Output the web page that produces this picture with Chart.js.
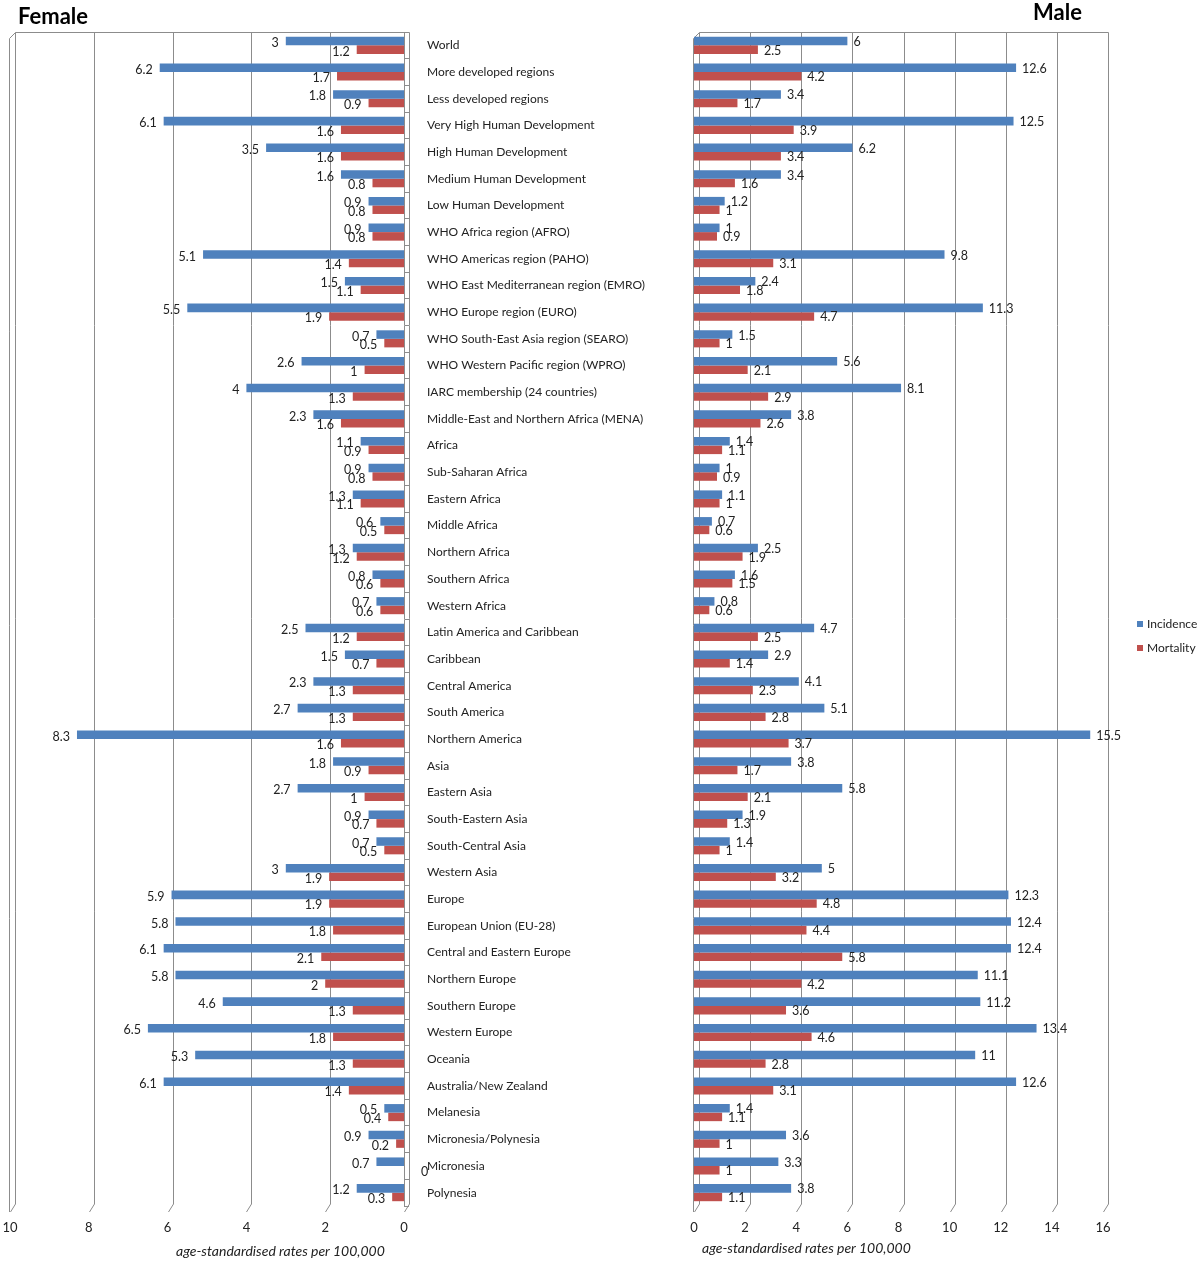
<!DOCTYPE html>
<html><head><meta charset="utf-8">
<script src="https://cdn.jsdelivr.net/npm/chart.js@4"></script>
<style>
body{margin:0;background:#fff;width:1200px;height:1261px;position:relative;overflow:hidden;font-family:Lato,sans-serif;color:#222}
#fw{position:absolute;left:0;top:0;width:680px;height:1261px}
#mw{position:absolute;left:680px;top:0;width:520px;height:1261px}
.h{position:absolute;font-weight:bold;font-size:22px;color:#000;line-height:1}
.at{position:absolute;font-style:italic;font-size:14px;color:#222;white-space:nowrap;line-height:1}
.lg{position:absolute;left:1137px;font-size:12px;line-height:1;white-space:nowrap}
.lg span{display:inline-block;width:6px;height:6px;margin-right:4px;vertical-align:1px}
</style></head>
<body>
<div id="fw"><canvas id="fc"></canvas></div>
<div id="mw"><canvas id="mc"></canvas></div>
<div class="h" style="left:18px;top:5px">Female</div>
<div class="h" style="left:1033px;top:1px">Male</div>
<div class="at" style="left:176px;top:1244px">age-standardised rates per 100,000</div>
<div class="at" style="left:702px;top:1241px">age-standardised rates per 100,000</div>
<div class="lg" style="top:618px"><span style="background:#4F81BD"></span>Incidence</div>
<div class="lg" style="top:642px"><span style="background:#C0504D"></span>Mortality</div>
<script>
const categories = ["World","More developed regions","Less developed regions","Very High Human Development","High Human Development","Medium Human Development","Low Human Development","WHO Africa region (AFRO)","WHO Americas region (PAHO)","WHO East Mediterranean region (EMRO)","WHO Europe region (EURO)","WHO South-East Asia region (SEARO)","WHO Western Pacific region (WPRO)","IARC membership (24 countries)","Middle-East and Northern Africa (MENA)","Africa","Sub-Saharan Africa","Eastern Africa","Middle Africa","Northern Africa","Southern Africa","Western Africa","Latin America and Caribbean","Caribbean","Central America","South America","Northern America","Asia","Eastern Asia","South-Eastern Asia","South-Central Asia","Western Asia","Europe","European Union (EU-28)","Central and Eastern Europe","Northern Europe","Southern Europe","Western Europe","Oceania","Australia/New Zealand","Melanesia","Micronesia/Polynesia","Micronesia","Polynesia"];
const femaleIncidence = [3,6.2,1.8,6.1,3.5,1.6,0.9,0.9,5.1,1.5,5.5,0.7,2.6,4,2.3,1.1,0.9,1.3,0.6,1.3,0.8,0.7,2.5,1.5,2.3,2.7,8.3,1.8,2.7,0.9,0.7,3,5.9,5.8,6.1,5.8,4.6,6.5,5.3,6.1,0.5,0.9,0.7,1.2];
const femaleMortality = [1.2,1.7,0.9,1.6,1.6,0.8,0.8,0.8,1.4,1.1,1.9,0.5,1,1.3,1.6,0.9,0.8,1.1,0.5,1.2,0.6,0.6,1.2,0.7,1.3,1.3,1.6,0.9,1,0.7,0.5,1.9,1.9,1.8,2.1,2,1.3,1.8,1.3,1.4,0.4,0.2,0,0.3];
const maleIncidence = [6,12.6,3.4,12.5,6.2,3.4,1.2,1,9.8,2.4,11.3,1.5,5.6,8.1,3.8,1.4,1,1.1,0.7,2.5,1.6,0.8,4.7,2.9,4.1,5.1,15.5,3.8,5.8,1.9,1.4,5,12.3,12.4,12.4,11.1,11.2,13.4,11,12.6,1.4,3.6,3.3,3.8];
const maleMortality = [2.5,4.2,1.7,3.9,3.4,1.6,1,0.9,3.1,1.8,4.7,1,2.1,2.9,2.6,1.1,0.9,1,0.6,1.9,1.5,0.6,2.5,1.4,2.3,2.8,3.7,1.7,2.1,1.3,1,3.2,4.8,4.4,5.8,4.2,3.6,4.6,2.8,3.1,1.1,1,1,1.1];
const seriesNames = ["Incidence","Mortality"];
const seriesColors = ["#4F81BD","#C0504D"];
const femaleAxisMax = 10, maleAxisMax = 16, axisStep = 2;

const GRID = '#8c8c8c';
const wallPlugin = {
  id:'wall',
  beforeDatasetsDraw(chart, args, opts){
    const ctx = chart.ctx, a = chart.chartArea, xs = chart.scales.x;
    const dx = 5, dyB = 6, top = a.top + 0.5, bot = a.bottom - 2;
    ctx.save(); ctx.strokeStyle = GRID; ctx.lineWidth = 1;
    xs.ticks.forEach(t=>{
      const x = Math.round(xs.getPixelForValue(t.value)) + 0.5;
      ctx.beginPath(); ctx.moveTo(x+dx, top); ctx.lineTo(x+dx, bot); ctx.lineTo(x, bot+dyB+2); ctx.stroke();
    });
    const wx = Math.round(xs.getPixelForValue(opts.wallValue)) + 0.5;
    ctx.beginPath(); ctx.moveTo(wx+dx, top); ctx.lineTo(wx-1, top+dx+1); ctx.lineTo(wx-1, bot+dyB+2); ctx.stroke();
    const x0 = Math.round(xs.getPixelForValue(xs.min))+0.5, x1 = Math.round(xs.getPixelForValue(xs.max))+0.5;
    ctx.beginPath(); ctx.moveTo(Math.min(x0,x1)+dx, top); ctx.lineTo(Math.max(x0,x1)+dx, top); ctx.stroke();
    ctx.restore();
  }
};
const labelPlugin = {
  id:'vlabels',
  afterDatasetsDraw(chart, args, opts){
    const ctx = chart.ctx; ctx.save();
    ctx.font = '12.5px Lato'; ctx.fillStyle = '#222'; ctx.textBaseline = 'middle';
    chart.data.datasets.forEach((ds,i)=>{
      const meta = chart.getDatasetMeta(i);
      meta.data.forEach((el,j)=>{
        const v = ds.data[j], txt = String(v);
        if (opts.side === 'left') {
          if (v === 0) { ctx.textAlign='left'; ctx.fillText(txt, el.base+17, el.y+2); }
          else { ctx.textAlign='right'; ctx.fillText(txt, el.x-7, el.y+2); }
        } else { ctx.textAlign='left'; ctx.fillText(txt, el.x+6, el.y+1); }
      });
    });
    ctx.restore();
  }
};

function makeDatasets(inc, mort){
  return [inc, mort].map((d,i)=>({label:seriesNames[i], data:d, backgroundColor:seriesColors[i],
    borderWidth:0, barPercentage:1, categoryPercentage:0.64}));
}
function xScale(max, reverse){
  return {type:'linear', min:0, max:max, reverse:reverse,
    grid:{display:false, drawTicks:false}, border:{display:false},
    ticks:{stepSize:axisStep, padding:14, color:'#222', font:{family:'Lato', size:13}},
    afterFit(s){ s.height = 55; s.paddingLeft = 0; s.paddingRight = 0; }};
}
const common = {indexAxis:'y', responsive:true, maintainAspectRatio:false, animation:false,
  events:[], plugins:{legend:{display:false}, tooltip:{enabled:false}}};

new Chart(document.getElementById('fc'), {
  type:'bar',
  data:{labels:categories, datasets:makeDatasets(femaleIncidence, femaleMortality)},
  options:Object.assign({}, common, {
    layout:{padding:{left:10, top:32, right:0, bottom:0}},
    plugins:{legend:{display:false}, tooltip:{enabled:false}, wall:{wallValue:femaleAxisMax}, vlabels:{side:'left'}},
    scales:{
      x:xScale(femaleAxisMax, true),
      y:{position:'right', grid:{display:true, drawOnChartArea:false, tickLength:5, color:GRID},
         border:{display:true, color:GRID},
         ticks:{padding:18, color:'#222', font:{family:'Lato', size:12}},
         afterFit(s){ s.width = 276; }}
    }
  }),
  plugins:[wallPlugin, labelPlugin]
});

new Chart(document.getElementById('mc'), {
  type:'bar',
  data:{labels:categories, datasets:makeDatasets(maleIncidence, maleMortality)},
  options:Object.assign({}, common, {
    layout:{padding:{left:14, top:32, right:97, bottom:0}},
    plugins:{legend:{display:false}, tooltip:{enabled:false}, wall:{wallValue:0}, vlabels:{side:'right'}},
    scales:{
      x:xScale(maleAxisMax, false),
      y:{display:false}
    }
  }),
  plugins:[wallPlugin, labelPlugin]
});
</script>
</body></html>
